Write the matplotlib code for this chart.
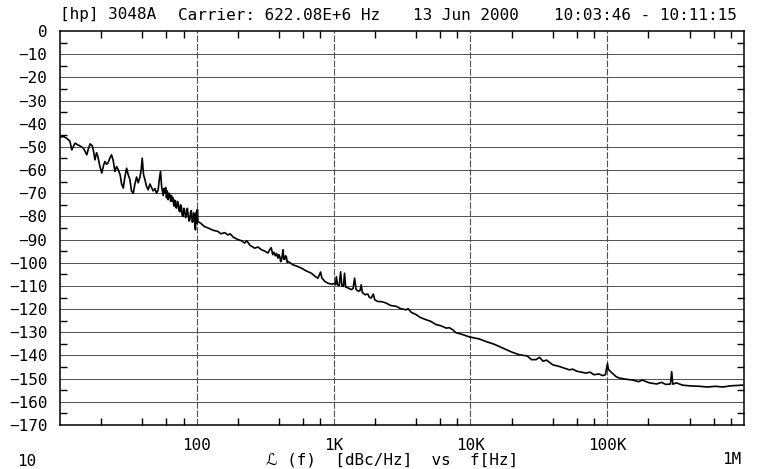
import numpy as np
import matplotlib.pyplot as plt

plt.rcParams['font.family'] = ['DejaVu Sans Mono', 'DejaVu Sans']

# 量測到的相位雜訊 (offset 頻率 Hz, L(f) dBc/Hz)
freq = [10, 10.6, 11.2, 11.8, 12.2, 12.6, 12.9, 13.4, 14.0, 14.8, 15.7, 16.1, 16.6,
        17.2, 17.6, 18.0, 18.5, 18.9, 19.5, 20.2, 20.8, 21.3, 21.9, 22.4, 23.1, 23.8,
        24.5, 25.2, 25.9, 26.5, 27.5, 28.2, 29.0, 29.8, 30.7, 31.5, 32.4, 33.3, 34.3,
        35.3, 36.3, 37.3, 38.4, 39.2, 39.9, 40.8, 41.7, 42.9, 44.1, 45.4, 46.7, 48,
        49.4, 50.8, 52.2, 53.2, 54.3, 55.3,
        56.8, 57.6, 58.5, 59.2, 60, 60.8, 61.7, 62.6, 63.5, 64.4, 65.3, 66.2, 67.1,
        68, 69, 70, 71.1, 72, 73, 74, 75.1, 76, 77, 78.2, 79.4, 80.4, 81.5, 82.8,
        84.1, 85.3, 86.5, 87.7, 88.9, 90.1, 91.3, 92.6, 94.0, 94.9, 95.8, 96.8, 97.8,
        98.6, 99.5, 100.2, 101, 102, 107, 114, 121, 132, 143, 150, 160, 169, 175,
        185, 200, 212, 224, 232, 245, 265, 280, 297, 315, 331, 340, 350,
        359, 367, 375, 383, 392, 398, 405, 410, 415, 421, 427, 433, 440, 446, 452,
        458, 464, 480, 505, 540, 581, 630, 687, 730, 767, 790, 803, 820,
        860, 908, 960, 1016, 1035, 1047, 1070, 1100, 1125, 1150, 1180, 1202, 1225,
        1270, 1346, 1390, 1423, 1460, 1520, 1560, 1592, 1620, 1700, 1778, 1830, 1883,
        1950, 2000, 2104, 2250, 2426, 2600, 2870, 3100, 3395, 3500, 3700, 4018, 4300,
        4753, 5100, 5623, 6100, 6653, 7000, 7430, 7800, 8790, 9840, 11640, 13030,
        15000, 17220, 20000, 22800, 26000, 28000, 30200, 32000, 34000, 36000, 39900,
        45000, 52800, 56000, 60000, 70000, 75000, 80000, 87500, 92500, 97000, 100500,
        102000, 106000, 116000, 122000, 135000, 153000, 170000, 180000, 203000,
        230000, 250000, 268000, 290000, 296000, 302000, 320000, 355000, 400000,
        470000, 540000, 621000, 700000, 800000, 973000]
level = [-45.8, -45.5, -46.3, -47.5, -51.3, -49.5, -48.4, -49.0, -49.6, -50.5, -53.4, -51, -48.7,
         -49.5, -52, -55.6, -52.5, -54, -58, -61.3, -58, -56.3, -57.5, -57, -55, -53.4,
         -56, -60.6, -58.5, -59.5, -62, -66, -67.8, -63, -59.2, -62, -64, -69, -70,
         -66, -63, -65.5, -63, -60, -54.9, -62, -64, -67, -68.5, -66, -67.5, -69,
         -68, -70, -68.5, -64, -60.6, -67,
         -71, -68, -70, -67.5, -72, -69, -72.8, -70, -70.5, -73.5, -71, -73.5, -72,
         -75.5, -73, -76, -76.4, -73.5, -74, -77.5, -78, -75, -75.5, -79.5, -80, -76.5, -77.5, -80.5,
         -79, -76.5, -79.5, -82, -81.5, -78, -77.5, -82.5, -82, -78.5, -79, -84, -85.8,
         -80, -78, -83, -77, -82.2, -83, -84.4, -85, -86, -86.5, -87.5, -87, -88, -87.5,
         -89, -90, -90.5, -91.5, -90.5, -92.5, -93.7, -93.2, -94.4, -95, -95.8, -94.5, -93.5,
         -96.5, -95.5, -97, -96, -98, -96.5, -97.5, -99.5, -99, -97, -94.4, -98.5, -98.5, -97, -97.5,
         -99.8, -99.4, -100, -100.9, -101.5, -102.3, -103.5, -104.5, -105.8, -106.7, -105, -104, -106.5,
         -108, -108.8, -109.2, -109, -109.5, -106, -109.5, -109.8, -103.9, -110, -110.2, -104.5, -110.5,
         -110.8, -111.6, -111, -106.6, -111.5, -112.3, -112, -109.5, -112.8, -113.8, -113.5, -115, -115.2,
         -113.5, -116, -116.7, -116.8, -117.4, -118.4, -118.8, -119.8, -120.3, -119.8, -121.4, -122.4, -123.6,
         -124.6, -125.2, -126.7, -127.2, -128.2, -128.0, -128.9, -130.1, -131, -132, -132.9, -134,
         -135.2, -136.8, -138.5, -139.7, -140.2, -141.8, -141.8, -140.8, -142.5, -142, -144,
         -144.8, -146.2, -145.9, -146.8, -147.6, -147.2, -148.3, -148, -148.7, -148.3, -143.5,
         -146, -147, -149.1, -149.7, -150.2, -150.6, -151.3, -150.6, -151.8,
         -152.3, -151.6, -152.5, -152.3, -147, -152.4, -151.8, -152.8, -153.1,
         -153.3, -153.6, -153.3, -153.6, -153.1, -152.8]

y_ticks = list(range(0, -171, -10))
y_labels = ['0'] + ['\u2212%d' % (-v) for v in y_ticks[1:]]
x_ticks = [100, 1e3, 1e4, 1e5]
x_labels = ['100', '1K', '10K', '100K']

W, H = 759, 469
fig = plt.figure(figsize=(W / 100, H / 100), dpi=100)
ax = fig.add_axes([60 / W, 1 - 425 / H, (744 - 60) / W, (425 - 31) / H])

ax.set_xscale('log')
ax.set_xlim(10, 1e6)
ax.set_ylim(-170, 0)

# 格線
for v in y_ticks[1:-1]:
    ax.axhline(v, color='#505050', lw=0.7, zorder=1)
for f in x_ticks:
    ax.axvline(f, color='#505050', lw=0.8, ls=(0, (6, 1.5)), zorder=1)

ax.plot(freq, level, color='black', lw=1.2, zorder=3)

# 刻度
ax.set_xticks(x_ticks)
ax.set_xticklabels(x_labels, fontsize=11.5)
minor_x = [m * 10 ** d for d in range(1, 6) for m in (2, 4, 6, 8)]
ax.set_xticks(minor_x, minor=True)
ax.set_yticks(y_ticks)
ax.set_yticklabels(y_labels, fontsize=11.5)
ax.set_yticks([v - 5 for v in y_ticks[:-1]], minor=True)
ax.tick_params(axis='x', which='major', length=0, pad=9)
ax.tick_params(axis='y', which='major', length=0, pad=9)
ax.tick_params(which='minor', direction='in', length=5, width=1,
               top=True, bottom=True, left=True, right=True,
               labelbottom=False, labelleft=False)

for s in ax.spines.values():
    s.set_linewidth(1.1)

# 標題與註解
fs = 11.5
fig.text(60 / W, 1 - 15 / H, '[hp] 3048A', fontsize=fs, va='center')
fig.text(178 / W, 1 - 15 / H, 'Carrier: 622.08E+6 Hz', fontsize=fs, va='center')
fig.text(413 / W, 1 - 15 / H, '13 Jun 2000', fontsize=fs, va='center')
fig.text(737 / W, 1 - 15 / H, '10:03:46 - 10:11:15', fontsize=fs, va='center', ha='right')
fig.text(27 / W, 1 - 461 / H, '10', fontsize=fs, va='center', ha='center')
fig.text(732 / W, 1 - 459 / H, '1M', fontsize=fs, va='center', ha='center')
fig.text(392 / W, 1 - 460 / H, '\u2112 (f)  [dBc/Hz]  vs  f[Hz]', fontsize=fs,
         va='center', ha='center')

fig.savefig('out.png', dpi=100)
